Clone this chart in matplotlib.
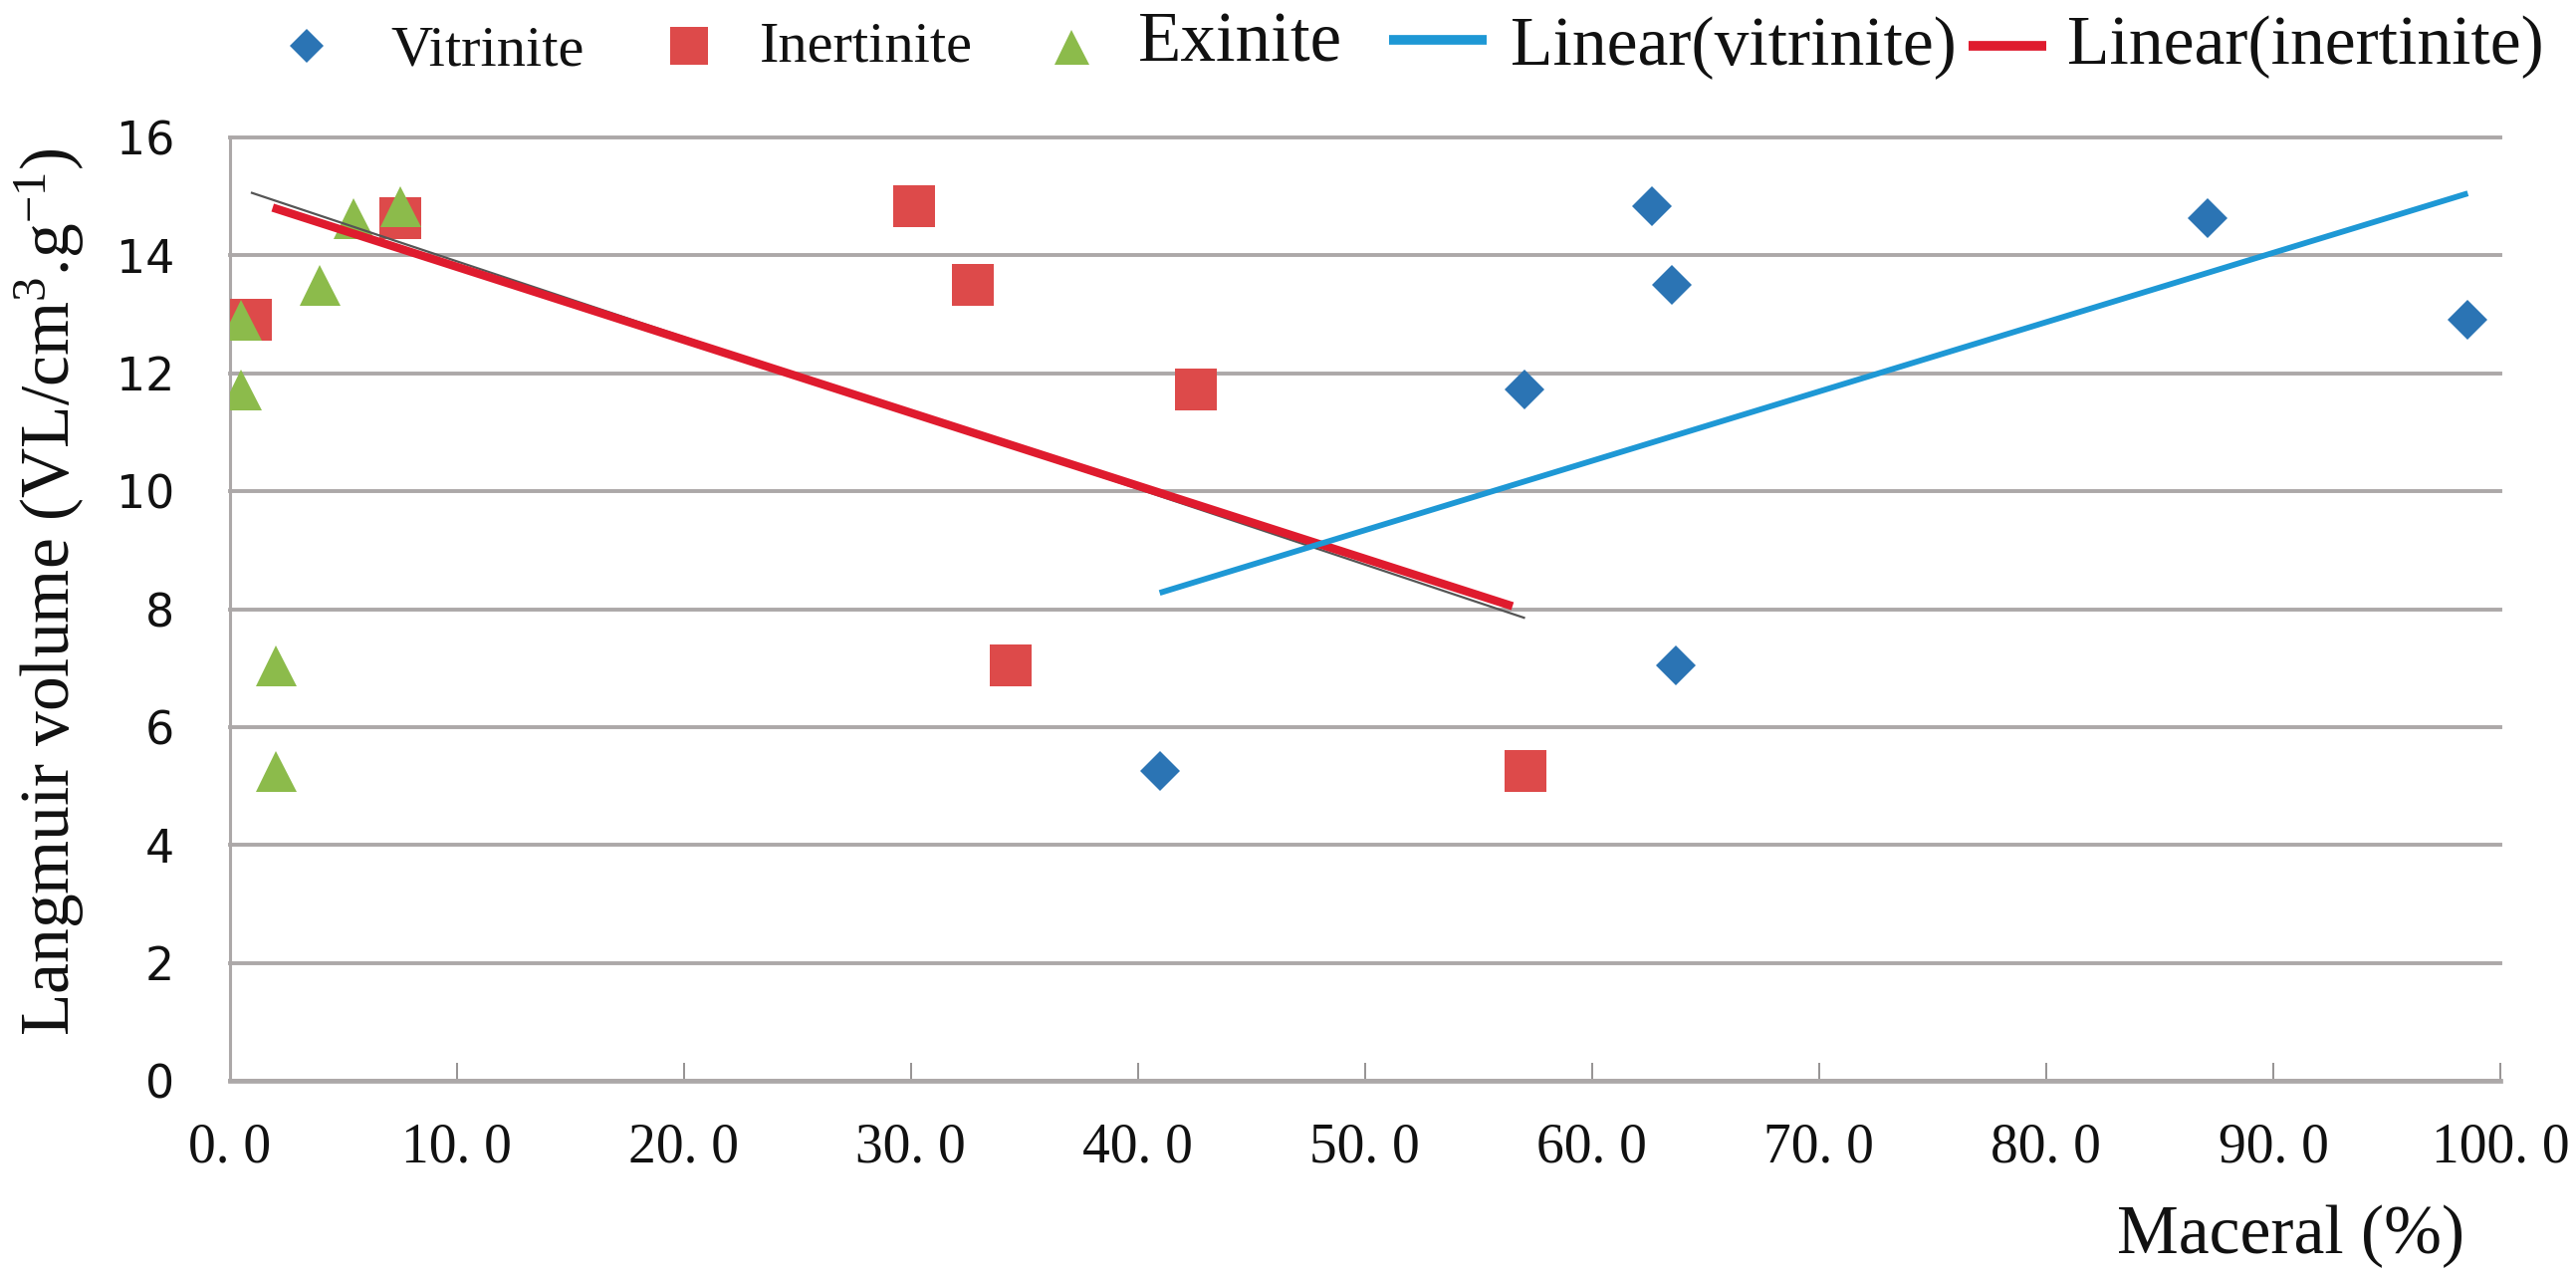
import numpy as np
import matplotlib
matplotlib.use("Agg")
import matplotlib.pyplot as plt
from matplotlib.lines import Line2D

plt.rcParams['mathtext.fontset'] = 'custom'
plt.rcParams['mathtext.rm'] = 'Liberation Serif'
plt.rcParams['mathtext.it'] = 'Liberation Serif:italic'
plt.rcParams['mathtext.bf'] = 'Liberation Serif:bold'

# ---------------- data ----------------
langmuir_volume = [5.26, 7.05, 11.72, 12.90, 13.50, 14.63, 14.84]
vitrinite = [40.96, 63.71, 57.01, 98.57, 63.52, 87.12, 62.63]
inertinite = [57.05, 34.38, 42.54, 0.94, 32.75, 7.51, 30.13]
exinite = [2.05, 2.05, 0.51, 0.51, 3.97, 5.48, 7.51]

# drawn red trend segment (as it appears in the chart)
inert_trend_x = [1.9, 56.5]
inert_trend_y = [14.81, 8.05]

x_ticks = [0, 10, 20, 30, 40, 50, 60, 70, 80, 90, 100]
x_tick_labels = ['0. 0', '10. 0', '20. 0', '30. 0', '40. 0', '50. 0',
                 '60. 0', '70. 0', '80. 0', '90. 0', '100. 0']
y_ticks = [0, 2, 4, 6, 8, 10, 12, 14, 16]
y_tick_labels = ['0', '2', '4', '6', '8', '10', '12', '14', '16']

# ---------------- styles ----------------
W, H = 2587, 1284
DPI = 100
C_VIT = '#2B74B4'
C_INE = '#DD4A4A'
C_EXI = '#8CBB4B'
C_VLINE = '#1E98D5'
C_ILINE = '#DF1B2E'
C_GRID = '#ACA8A8'
SERIF = 'Liberation Serif'

fig = plt.figure(figsize=(W / DPI, H / DPI), dpi=DPI, facecolor='white')
ax = fig.add_axes([230.5 / W, 1 - 1085 / H, (2511 - 230.5) / W, (1085 - 138) / H])
ax.set_facecolor('white')

ax.set_xlim(0, 100)
ax.set_ylim(0, 16)

# grid
ax.set_yticks(y_ticks)
ax.set_yticklabels(y_tick_labels)
ax.set_xticks(x_ticks)
ax.set_xticklabels(x_tick_labels)
ax.yaxis.grid(True, color=C_GRID, linewidth=2.8, zorder=0)
ax.xaxis.grid(False)
for gl in ax.get_ygridlines():
    gl.set_clip_on(False)
ax.set_axisbelow(True)

for s in ['top', 'right']:
    ax.spines[s].set_visible(False)
ax.spines['left'].set_color(C_GRID)
ax.spines['left'].set_linewidth(2.2)
ax.spines['bottom'].set_color(C_GRID)
ax.spines['bottom'].set_linewidth(3.4)

ax.tick_params(axis='x', direction='in', length=13, width=1.3, color='#8E8A8A',
               pad=30, labelsize=40, labelcolor='#111111')
ax.tick_params(axis='y', length=0, pad=40, labelsize=33, labelcolor='#111111')
for lab in ax.get_xticklabels():
    lab.set_fontfamily(SERIF)
for lab in ax.get_yticklabels():
    lab.set_fontfamily('DejaVu Sans')

# scatter points
ms_sq = 42 * 72 / DPI
ms_tri = 41 * 72 / DPI
ms_dia = 40 / np.sqrt(2) * 72 / DPI
ax.plot(vitrinite, langmuir_volume, linestyle='none', marker='D', markersize=ms_dia,
        color=C_VIT, markeredgewidth=0, zorder=3)
ax.plot(inertinite, langmuir_volume, linestyle='none', marker='s', markersize=ms_sq,
        color=C_INE, markeredgewidth=0, zorder=3)
ax.plot(exinite, langmuir_volume, linestyle='none', marker='^', markersize=ms_tri,
        color=C_EXI, markeredgewidth=0, zorder=4)

# linear fits
vx = np.array(vitrinite)
ix = np.array(inertinite)
vy = np.array(langmuir_volume)
pv = np.polyfit(vx, vy, 1)
pi = np.polyfit(ix, vy, 1)
vxr = np.array([vx.min(), vx.max()])
ixr = np.array([ix.min(), ix.max()])
ax.plot(ixr, np.polyval(pi, ixr), color='#555555', linewidth=1.6, zorder=5,
        solid_capstyle='butt')
ax.plot(inert_trend_x, inert_trend_y, color=C_ILINE, linewidth=6.0, zorder=6,
        solid_capstyle='butt')
ax.plot(vxr, np.polyval(pv, vxr), color=C_VLINE, linewidth=4.2, zorder=6,
        solid_capstyle='butt')

# axis labels
fig.text(50 / W, 1 - 594 / H, r'Langmuir volume (VL/cm$^{3}$.g$^{-1}$)',
         rotation=90, ha='center', va='center', fontsize=50, family=SERIF,
         color='#111111')
fig.text(2301 / W, 1 - 1258 / H, 'Maceral (%)', ha='center', va='baseline',
         fontsize=50, family=SERIF, color='#111111')

# legend (manual layout at top of figure)
def fx(px):
    return px / W

def fy(py):
    return 1 - py / H

leg_items = [
    dict(kind='marker', marker='D', color=C_VIT, size=35 / np.sqrt(2) * 72 / DPI,
         mx=308, my=46, label='Vitrinite', tx=392, ty=65, fs=42),
    dict(kind='marker', marker='s', color=C_INE, size=38 * 72 / DPI,
         mx=692, my=46, label='Inertinite', tx=763, ty=62, fs=42),
    dict(kind='marker', marker='^', color=C_EXI, size=35 * 72 / DPI,
         mx=1075.5, my=46.5, label='Exinite', tx=1143, ty=62, fs=51),
    dict(kind='line', color=C_VLINE, x0=1395, x1=1493, my=40, lw=7,
         label='Linear(vitrinite)', tx=1517, ty=65, fs=50),
    dict(kind='line', color=C_ILINE, x0=1977, x1=2055, my=46, lw=7,
         label='Linear(inertinite)', tx=2076, ty=64, fs=50),
]
for it in leg_items:
    if it['kind'] == 'marker':
        fig.add_artist(Line2D([fx(it['mx'])], [fy(it['my'])], transform=fig.transFigure,
                              marker=it['marker'], markersize=it['size'],
                              color=it['color'], markeredgewidth=0, linestyle='none'))
    else:
        fig.add_artist(Line2D([fx(it['x0']), fx(it['x1'])], [fy(it['my'])] * 2,
                              transform=fig.transFigure, color=it['color'],
                              linewidth=it['lw'], solid_capstyle='butt'))
    fig.text(fx(it['tx']), fy(it['ty']), it['label'], ha='left', va='baseline',
             fontsize=it['fs'], family=SERIF, color='#111111')

fig.savefig('out.png', dpi=DPI, facecolor='white')
